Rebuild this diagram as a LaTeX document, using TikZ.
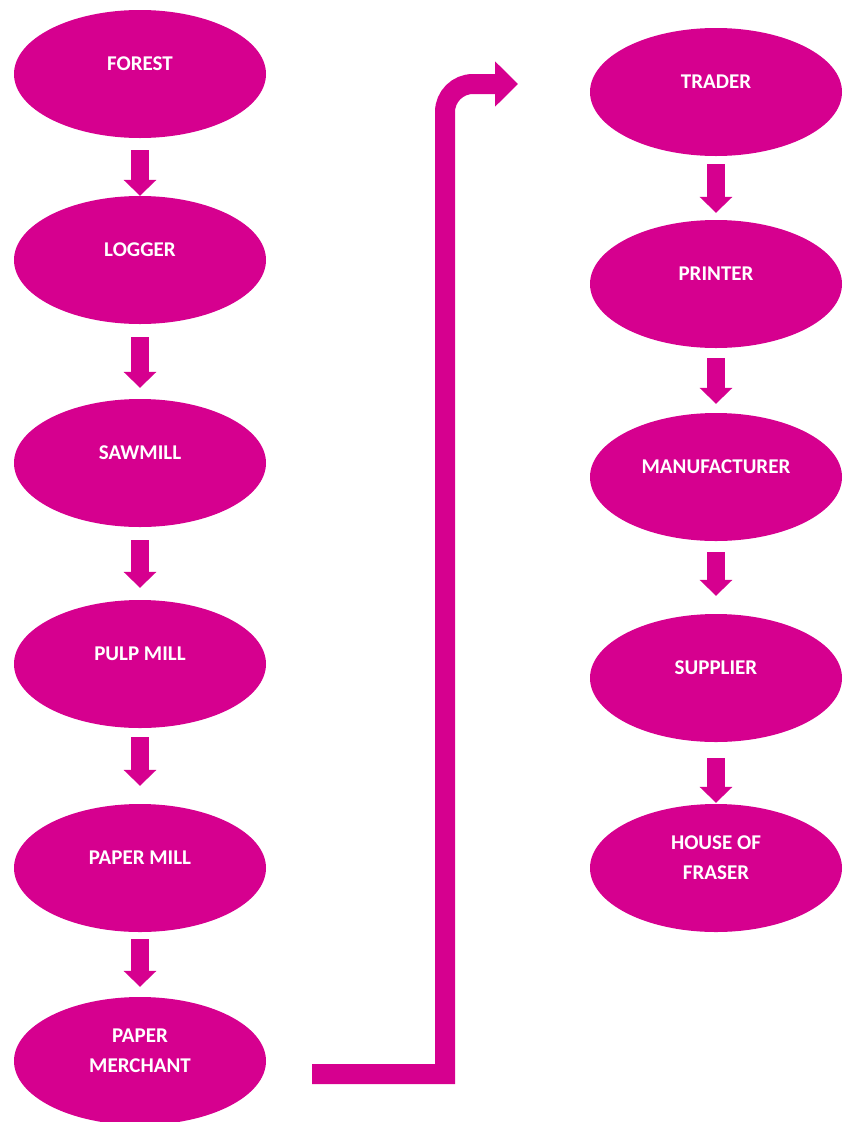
\documentclass[tikz,border=0pt]{standalone}
\usepackage{fontspec}
\setmainfont{Carlito}
\usetikzlibrary{shapes.geometric,arrows.meta}
\definecolor{pink1}{HTML}{D6008F}
\tikzset{
	station/.style={ellipse, fill=pink1, text=white, inner sep=0pt,
		font=\bfseries\fontsize{21}{30}\selectfont, align=center,
		minimum width=252pt, minimum height=128pt, text depth=20pt},
	pfeil/.style={pink1, line width=18pt, -{Triangle[length=16pt,width=32pt]}},
	bogen/.style={pink1, line width=20pt, -{Triangle[length=23pt,width=44pt]}}
}
\begin{document}
\begin{tikzpicture}[x=1pt,y=-1pt]
	\useasboundingbox (0,0) rectangle (845,1122);
	% Kette links
	\node [station] (forest) at (140,74) {FOREST};
	\node [station] (logger) at (140,260) {LOGGER};
	\node [station] (sawmill) at (140,463) {SAWMILL};
	\node [station] (pulpmill) at (140,664) {PULP MILL};
	\node [station] (papermill) at (140,868) {PAPER MILL};
	\node [station] (merchant) at (140,1061) {PAPER\\MERCHANT};
	% Kette rechts
	\node [station] (trader) at (716,92) {TRADER};
	\node [station] (printer) at (716,284) {PRINTER};
	\node [station] (manufacturer) at (716,477) {MANUFACTURER};
	\node [station] (supplier) at (716,678) {SUPPLIER};
	\node [station] (fraser) at (716,868) {HOUSE OF\\FRASER};
	% Pfeile (Abstand oben/unten)
	\foreach \a/\b/\s/\e in {forest/logger/12/0, logger/sawmill/13/11, sawmill/pulpmill/13/12,
		pulpmill/papermill/9/18, papermill/merchant/7/10,
		trader/printer/8/7, printer/manufacturer/10/9, manufacturer/supplier/11/18, supplier/fraser/16/1} {
		\draw [pfeil, shorten <=\s pt, shorten >=\e pt] (\a.south) -- (\b.north);
	}
	% Verbindung nach rechts
	\coordinate (abzweig) at (312,1074);
	\coordinate (ziel) at (518,84);
	\draw [bogen] (abzweig) -- (445,1074) -- (445,112) arc [start angle=180, end angle=270, radius=28] -- (ziel);
\end{tikzpicture}
\end{document}
